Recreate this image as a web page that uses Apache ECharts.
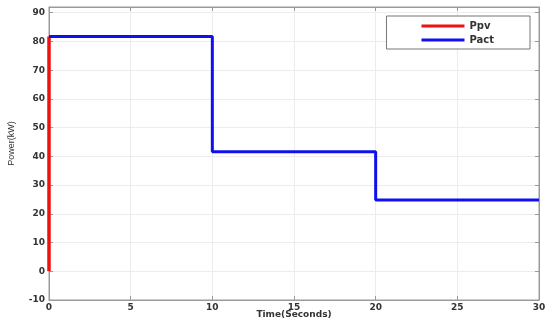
<!DOCTYPE html>
<html>
<head>
<meta charset="utf-8">
<style>
  html, body { margin: 0; padding: 0; background: #fff; }
  #chart { width: 550px; height: 324px; }
</style>
<script src="https://cdn.jsdelivr.net/npm/echarts@6/dist/echarts.min.js"></script>
</head>
<body>
<div id="chart"></div>
<script>
// step data (time in s, power in kW)
const ppvTime = [0, 0];
const ppvPower = [0, 81.7];
const pactTime = [0, 10, 10, 20, 20, 30];
const pactPower = [81.7, 81.7, 41.6, 41.6, 24.8, 24.8];

const toPairs = (xs, ys) => xs.map((x, i) => [x, ys[i]]);

const labelStyle = { color: '#333', fontWeight: 'bold', fontSize: 9, fontFamily: 'DejaVu Sans' };
const lineGray = { color: '#9a9a9a', width: 1 };

const myChart = echarts.init(document.getElementById('chart'));

myChart.setOption({
    animation: false,
    grid: {
        left: 49, right: 11, top: 7, bottom: 24,
        outerBoundsMode: 'none', containLabel: false,
        show: true, borderColor: '#9a9a9a', borderWidth: 1
    },
    legend: {
        right: 20, top: 16, orient: 'vertical', itemGap: 4,
        itemWidth: 43, itemHeight: 3,
        borderColor: '#777', borderWidth: 1, padding: [5, 36, 4, 35],
        backgroundColor: '#fff',
        textStyle: Object.assign({}, labelStyle, { fontSize: 10 }),
        data: [
            { name: 'Ppv', icon: 'rect' },
            { name: 'Pact', icon: 'rect' }
        ]
    },
    xAxis: [{
        type: 'value', min: 0, max: 30, interval: 5,
        name: 'Time(Seconds)', nameLocation: 'middle', nameGap: 10,
        nameMoveOverlap: false,
        nameTextStyle: labelStyle,
        axisLine: { onZero: false, lineStyle: lineGray },
        axisTick: { inside: true, length: 4, lineStyle: lineGray },
        axisLabel: Object.assign({ margin: 3 }, labelStyle),
        splitLine: { lineStyle: { color: '#ececec' } }
    }, {
        type: 'value', min: 0, max: 30, interval: 5, position: 'top',
        axisLine: { onZero: false, lineStyle: lineGray },
        axisTick: { inside: true, length: 4, lineStyle: lineGray },
        axisLabel: { show: false }, splitLine: { show: false }
    }],
    yAxis: [{
        type: 'value', min: -10, max: 92, interval: 10,
        name: 'Power(kW)', nameLocation: 'middle', nameGap: 33,
        nameMoveOverlap: false,
        nameTextStyle: { color: '#333', fontSize: 9, fontFamily: 'Liberation Sans', padding: [0, 0, 0, 20] },
        axisLine: { onZero: false, lineStyle: lineGray },
        axisTick: { inside: true, length: 4, lineStyle: lineGray },
        axisLabel: Object.assign({ margin: 4, showMaxLabel: false }, labelStyle),
        splitLine: { lineStyle: { color: '#ececec' } }
    }, {
        type: 'value', min: -10, max: 92, interval: 10, position: 'right',
        axisLine: { onZero: false, lineStyle: lineGray },
        axisTick: { inside: true, length: 4, lineStyle: lineGray },
        axisLabel: { show: false }, splitLine: { show: false }
    }],
    series: [{
        name: 'Ppv', type: 'line', symbol: 'none', z: 3,
        color: '#ee1111',
        lineStyle: { width: 3.5, color: '#ee1111' },
        data: toPairs(ppvTime, ppvPower)
    }, {
        name: 'Pact', type: 'line', symbol: 'none', z: 4,
        color: '#1010ee',
        lineStyle: { width: 3, color: '#1010ee' },
        data: toPairs(pactTime, pactPower)
    }]
});
</script>
</body>
</html>
